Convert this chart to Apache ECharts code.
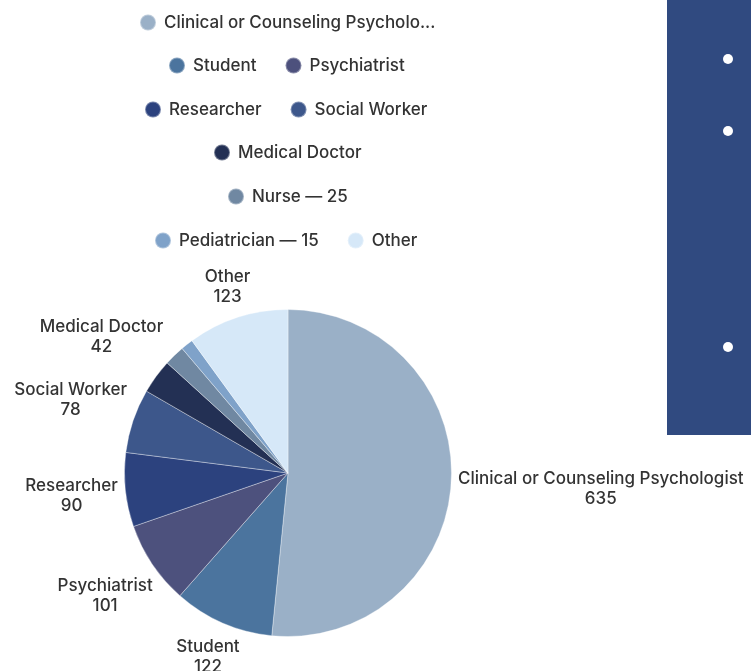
<!DOCTYPE html>
<html><head><meta charset="utf-8">
<script src="https://cdn.jsdelivr.net/npm/echarts@6/dist/echarts.min.js"></script>
<style>html,body{margin:0;padding:0;background:#fff}#c{width:751px;height:671px}</style>
</head><body><div id="c"></div>
<script>
// ---- data ----
const categories = ['Clinical or Counseling Psychologist','Student','Psychiatrist','Researcher','Social Worker','Medical Doctor','Nurse','Pediatrician','Other'];
const counts = [635,122,101,90,78,42,25,15,123];
const sliceColors = ['#9AB0C7','#4B749E','#4D517D','#2C427E','#3D578B','#233054','#7088A2','#7FA2C9','#D6E8F8'];
const legendRows = [
  ['Clinical or Counseling Psychologist'],
  ['Student','Psychiatrist'],
  ['Researcher','Social Worker'],
  ['Medical Doctor'],
  ['Nurse'],
  ['Pediatrician','Other']
];
const unlabeled = ['Nurse','Pediatrician'];

// ---- layout / style ----
const FONT = 'Inter';
const FS = 17;
const FW = 500;
const CX = 288, CY = 473, R = 163.5, GAP = 6;
const ICON_W = 22, ICON_H = 16, ITEM_GAP = 28;
const ROW_Y = [22, 65, 109, 152, 196, 240];
const LEG_CX = 288;

const total = counts.reduce((a, b) => a + b, 0);
const mids = [];
let acc = 0;
counts.forEach(v => { mids.push((acc + v / 2) / total * 2 * Math.PI); acc += v; });

function legendText(name) {
  const i = categories.indexOf(name);
  let t = name.length > 31 ? name.slice(0, 31) + '...' : name;
  if (unlabeled.indexOf(name) >= 0) t += ' \u2014 ' + counts[i];
  return t;
}

const mctx = document.createElement('canvas').getContext('2d');
mctx.font = FW + ' ' + FS + 'px ' + FONT;

const legends = legendRows.map((row, r) => {
  let w = 0;
  row.forEach((n, k) => {
    w += ICON_W + 5 + mctx.measureText(legendText(n)).width;
    if (k > 0) w += ITEM_GAP;
  });
  return {
    data: row,
    orient: 'horizontal',
    left: Math.round(LEG_CX - w / 2),
    top: ROW_Y[r] - ICON_H / 2 - 0.5,
    padding: 0,
    itemWidth: ICON_W,
    itemHeight: ICON_H,
    itemGap: ITEM_GAP,
    icon: 'circle',
    formatter: legendText,
    textStyle: { fontFamily: FONT, fontSize: FS, fontWeight: FW, color: '#333' }
  };
});

const chart = echarts.init(document.getElementById('c'));
chart.setOption({
  animation: false,
  color: sliceColors,
  legend: legends,
  graphic: [
    { type: 'rect', shape: { x: 667, y: 0, width: 84, height: 435 }, style: { fill: '#304A80' }, silent: true },
    { type: 'circle', shape: { cx: 728, cy: 59, r: 5 }, style: { fill: '#fff' }, silent: true },
    { type: 'circle', shape: { cx: 728, cy: 131, r: 5 }, style: { fill: '#fff' }, silent: true },
    { type: 'circle', shape: { cx: 728, cy: 347, r: 5 }, style: { fill: '#fff' }, silent: true }
  ],
  series: [{
    type: 'pie',
    center: [CX, CY],
    radius: R,
    startAngle: 90,
    clockwise: true,
    avoidLabelOverlap: false,
    itemStyle: { borderColor: 'rgba(255,255,255,0.35)', borderWidth: 1 },
    label: {
      show: true,
      formatter: '{b}\n{c}',
      fontFamily: FONT,
      fontSize: FS,
      fontWeight: FW,
      lineHeight: 20,
      color: '#333'
    },
    labelLine: { show: false },
    labelLayout: function (p) {
      const a = mids[p.dataIndex];
      const ux = Math.sin(a), uy = -Math.cos(a);
      const w = p.labelRect.width, h = p.labelRect.height;
      const d = R + GAP + Math.abs(ux) * w / 2 + Math.abs(uy) * h / 2;
      return { x: CX + ux * d, y: CY + uy * d, align: 'center', verticalAlign: 'middle' };
    },
    emphasis: { scale: false },
    data: categories.map((n, i) => ({
      name: n,
      value: counts[i],
      label: unlabeled.indexOf(n) >= 0 ? { show: false } : undefined
    }))
  }]
});
</script>
</body></html>
